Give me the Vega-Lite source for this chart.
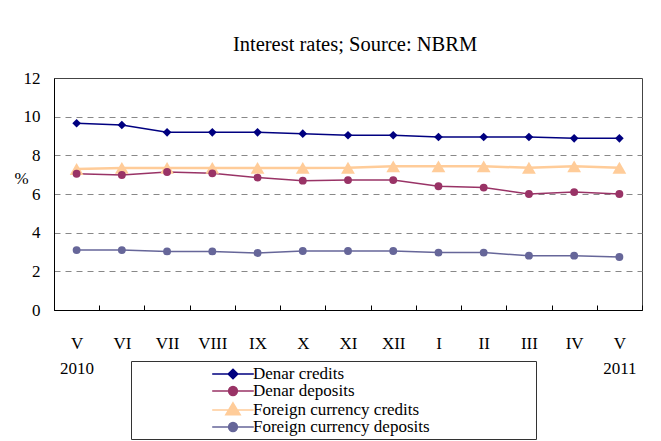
{
  "$schema": "https://vega.github.io/schema/vega-lite/v6.json",
  "width": 588,
  "height": 232,
  "autosize": "none",
  "padding": {"left": 54, "top": 78, "right": 19, "bottom": 131},
  "background": "white",
  "title": {"text": "Interest rates; Source: NBRM", "font": "Liberation Serif", "fontSize": 20.5, "fontWeight": "normal", "color": "black", "offset": 14, "dx": 7},
  "config": {"view": {"stroke": "#444", "strokeWidth": 1}, "font": "Liberation Serif"},
  "data": {"values": [
    {"series": "Denar credits", "period": "V 2010", "value": 9.66},
    {"series": "Denar credits", "period": "VI", "value": 9.57},
    {"series": "Denar credits", "period": "VII", "value": 9.19},
    {"series": "Denar credits", "period": "VIII", "value": 9.19},
    {"series": "Denar credits", "period": "IX", "value": 9.19},
    {"series": "Denar credits", "period": "X", "value": 9.12},
    {"series": "Denar credits", "period": "XI", "value": 9.04},
    {"series": "Denar credits", "period": "XII", "value": 9.04},
    {"series": "Denar credits", "period": "I", "value": 8.95},
    {"series": "Denar credits", "period": "II", "value": 8.95},
    {"series": "Denar credits", "period": "III", "value": 8.95},
    {"series": "Denar credits", "period": "IV", "value": 8.88},
    {"series": "Denar credits", "period": "V 2011", "value": 8.88},
    {"series": "Denar deposits", "period": "V 2010", "value": 7.05},
    {"series": "Denar deposits", "period": "VI", "value": 6.98},
    {"series": "Denar deposits", "period": "VII", "value": 7.14},
    {"series": "Denar deposits", "period": "VIII", "value": 7.07},
    {"series": "Denar deposits", "period": "IX", "value": 6.85},
    {"series": "Denar deposits", "period": "X", "value": 6.69},
    {"series": "Denar deposits", "period": "XI", "value": 6.72},
    {"series": "Denar deposits", "period": "XII", "value": 6.72},
    {"series": "Denar deposits", "period": "I", "value": 6.40},
    {"series": "Denar deposits", "period": "II", "value": 6.33},
    {"series": "Denar deposits", "period": "III", "value": 6.00},
    {"series": "Denar deposits", "period": "IV", "value": 6.10},
    {"series": "Denar deposits", "period": "V 2011", "value": 6.00},
    {"series": "Foreign currency credits", "period": "V 2010", "value": 7.29},
    {"series": "Foreign currency credits", "period": "VI", "value": 7.35},
    {"series": "Foreign currency credits", "period": "VII", "value": 7.35},
    {"series": "Foreign currency credits", "period": "VIII", "value": 7.35},
    {"series": "Foreign currency credits", "period": "IX", "value": 7.35},
    {"series": "Foreign currency credits", "period": "X", "value": 7.35},
    {"series": "Foreign currency credits", "period": "XI", "value": 7.36},
    {"series": "Foreign currency credits", "period": "XII", "value": 7.43},
    {"series": "Foreign currency credits", "period": "I", "value": 7.43},
    {"series": "Foreign currency credits", "period": "II", "value": 7.43},
    {"series": "Foreign currency credits", "period": "III", "value": 7.36},
    {"series": "Foreign currency credits", "period": "IV", "value": 7.43},
    {"series": "Foreign currency credits", "period": "V 2011", "value": 7.36},
    {"series": "Foreign currency deposits", "period": "V 2010", "value": 3.10},
    {"series": "Foreign currency deposits", "period": "VI", "value": 3.10},
    {"series": "Foreign currency deposits", "period": "VII", "value": 3.03},
    {"series": "Foreign currency deposits", "period": "VIII", "value": 3.03},
    {"series": "Foreign currency deposits", "period": "IX", "value": 2.95},
    {"series": "Foreign currency deposits", "period": "X", "value": 3.05},
    {"series": "Foreign currency deposits", "period": "XI", "value": 3.05},
    {"series": "Foreign currency deposits", "period": "XII", "value": 3.05},
    {"series": "Foreign currency deposits", "period": "I", "value": 2.97},
    {"series": "Foreign currency deposits", "period": "II", "value": 2.97},
    {"series": "Foreign currency deposits", "period": "III", "value": 2.81},
    {"series": "Foreign currency deposits", "period": "IV", "value": 2.81},
    {"series": "Foreign currency deposits", "period": "V 2011", "value": 2.74}
  ]},
  "encoding": {
    "x": {
      "field": "period", "type": "ordinal",
      "sort": ["V 2010", "VI", "VII", "VIII", "IX", "X", "XI", "XII", "I", "II", "III", "IV", "V 2011"],
      "scale": {"type": "band", "paddingInner": 0, "paddingOuter": 0},
      "axis": {
        "title": null, "labelAngle": 0, "tickBand": "extent", "tickSize": -5, "tickColor": "black",
        "domainColor": "black", "labelPadding": 30, "labelFont": "Liberation Serif", "labelFontSize": 17,
        "labelColor": "black", "labelLineHeight": 25, "labelExpr": "split(datum.label, ' ')", "grid": false
      }
    },
    "y": {
      "field": "value", "type": "quantitative",
      "scale": {"domain": [0, 12], "nice": false, "zero": true},
      "axis": {
        "values": [0, 2, 4, 6, 8, 10, 12], "grid": true, "gridDash": [6, 5], "gridColor": "#888", "gridWidth": 1,
        "gridOpacity": {"condition": {"test": "datum.value == 0 || datum.value == 12", "value": 0}, "value": 1},
        "ticks": false, "labelPadding": 14, "labelFont": "Liberation Serif", "labelFontSize": 17, "labelColor": "black",
        "domainColor": "black", "title": "%", "titleAngle": 0, "titleFont": "Liberation Serif", "titleFontSize": 17,
        "titleFontWeight": "normal", "titleColor": "black", "titleX": -33, "titleY": 100, "titleAlign": "center", "titleBaseline": "middle"
      }
    },
    "color": {
      "field": "series", "type": "nominal",
      "scale": {"domain": ["Denar credits", "Denar deposits", "Foreign currency credits", "Foreign currency deposits"],
                "range": ["#000080", "#993366", "#FFCC99", "#666699"]},
      "legend": {
        "orient": "none", "legendX": 77, "legendY": 283, "title": " ", "titleOrient": "right", "titlePadding": 102,
        "titleFontSize": 10, "strokeColor": "#333", "fillColor": "white",
        "padding": 4, "symbolSize": 256, "symbolOffset": 89, "labelOffset": 11, "labelFontSize": 17,
        "labelFont": "Liberation Serif", "labelColor": "black", "labelLimit": 600, "rowPadding": 0,
        "encode": {"symbols": {"update": {
          "shape": {"signal": "datum.value === 'Denar credits' ? 'M-2.6,0H2.6M0,-0.6L0.6,0L0,0.6L-0.6,0Z' : datum.value === 'Foreign currency credits' ? 'M-2.6,0H2.6M0,-0.9L0.9,0.6L-0.9,0.6Z' : 'M-2.6,0H2.6M-0.55,0A0.55,0.55,0,1,1,0.55,0A0.55,0.55,0,1,1,-0.55,0Z'"},
          "fill": {"signal": "scale('color', datum.value)"},
          "stroke": {"signal": "scale('color', datum.value)"},
          "strokeWidth": {"value": 1.5},
          "size": {"value": 256},
          "opacity": {"value": 1},
          "fillOpacity": {"value": 1},
          "strokeOpacity": {"value": 1}
        }}}
      }
    }
  },
  "layer": [
    {"mark": {"type": "line"},
     "encoding": {"strokeWidth": {"condition": {"test": "datum.series === 'Foreign currency credits'", "value": 2.5}, "value": 1.5}}},
    {"transform": [{"filter": "datum.series === 'Denar credits'"}],
     "mark": {"type": "point", "shape": "diamond", "size": 75, "filled": true, "opacity": 1}},
    {"transform": [{"filter": "datum.series === 'Foreign currency credits'"}],
     "mark": {"type": "point", "shape": "triangle-up", "size": 190, "filled": true, "opacity": 1}},
    {"transform": [{"filter": "datum.series === 'Denar deposits' || datum.series === 'Foreign currency deposits'"}],
     "mark": {"type": "point", "shape": "circle", "size": 62, "filled": true, "opacity": 1}}
  ]
}
